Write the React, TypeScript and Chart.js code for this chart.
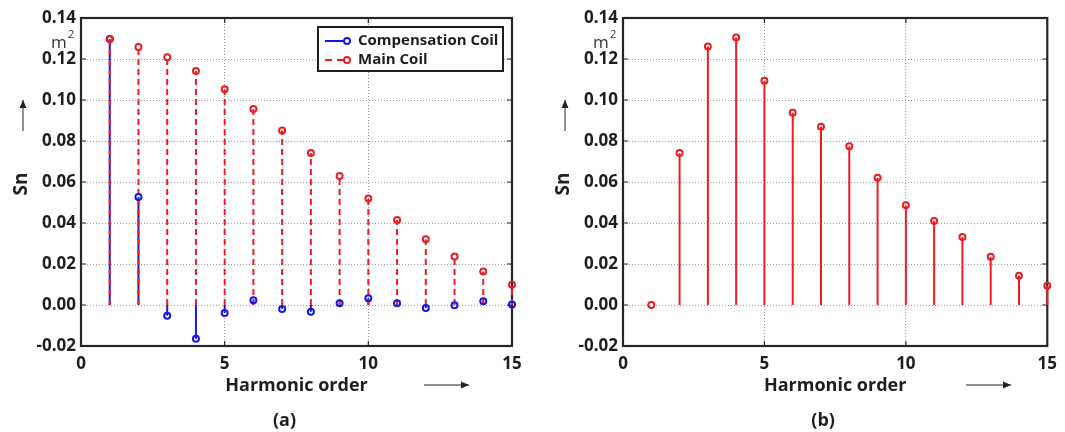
import React, { useEffect, useRef } from "react";
import { Chart, registerables } from "chart.js";

Chart.register(...registerables);

// ---------- data ----------
const harmonicOrder = [1, 2, 3, 4, 5, 6, 7, 8, 9, 10, 11, 12, 13, 14, 15];
const compensationCoil = [0.1297, 0.0527, -0.0052, -0.0165, -0.0039, 0.0023, -0.0019, -0.0033, 0.0008, 0.0033, 0.0008, -0.0015, -0.0001, 0.0018, 0.0003];
const mainCoil = [0.1297, 0.1259, 0.1209, 0.1141, 0.1053, 0.0956, 0.0851, 0.0742, 0.0629, 0.052, 0.0415, 0.0321, 0.0237, 0.0164, 0.0099];
const sensitivityB = [0.0, 0.0741, 0.1261, 0.1305, 0.1094, 0.0938, 0.087, 0.0774, 0.0621, 0.0486, 0.041, 0.0332, 0.0235, 0.0143, 0.0094];
const xTickValues = [0, 5, 10, 15];
const yTickValues = [-0.02, 0.0, 0.02, 0.04, 0.06, 0.08, 0.1, 0.12, 0.14];
const legendLabels = ["Compensation Coil", "Main Coil"];
const xTitle = "Harmonic order";
const yTitle = "Sn";
const unitLabel = "m";
const panelLabels = ["(a)", "(b)"];

const RED = "#ec1c24";
const BLUE = "#1616e0";
const INK = "#1e1e1e";
const FONT = "'Open Sans', 'DejaVu Sans', sans-serif";

const toPoints = (ys: number[]) => harmonicOrder.map((x, i) => ({ x, y: ys[i] }));

// ---------- plugins ----------
const framePlugin = {
  id: "frame",
  beforeDatasetsDraw(chart: any) {
    const { ctx, chartArea: a, scales } = chart;
    ctx.save();
    ctx.strokeStyle = "#262626";
    ctx.lineWidth = 1.2;
    const tl = 5;
    ctx.beginPath();
    xTickValues.forEach((v) => {
      const x = scales.x.getPixelForValue(v);
      ctx.moveTo(x, a.bottom);
      ctx.lineTo(x, a.bottom - tl);
      ctx.moveTo(x, a.top);
      ctx.lineTo(x, a.top + tl);
    });
    yTickValues.forEach((v) => {
      const y = scales.y.getPixelForValue(v);
      ctx.moveTo(a.left, y);
      ctx.lineTo(a.left + tl, y);
      ctx.moveTo(a.right, y);
      ctx.lineTo(a.right - tl, y);
    });
    ctx.stroke();
    ctx.lineWidth = 2.2;
    ctx.strokeRect(a.left, a.top, a.right - a.left, a.bottom - a.top);
    ctx.restore();
  },
};

const stemPlugin = {
  id: "stems",
  beforeDatasetsDraw(chart: any) {
    const { ctx, scales } = chart;
    const y0 = scales.y.getPixelForValue(0);
    const idx = chart.data.datasets.map((_: any, i: number) => i);
    idx.sort((a: number, b: number) => (chart.data.datasets[b].order || 0) - (chart.data.datasets[a].order || 0));
    ctx.save();
    idx.forEach((i: number) => {
      const ds = chart.data.datasets[i];
      const meta = chart.getDatasetMeta(i);
      ctx.strokeStyle = ds.borderColor;
      ctx.lineWidth = 2;
      ctx.setLineDash(ds.stemDash || []);
      meta.data.forEach((el: any) => {
        ctx.beginPath();
        ctx.moveTo(el.x, y0);
        ctx.lineTo(el.x, el.y);
        ctx.stroke();
      });
    });
    ctx.restore();
  },
};

function arrow(ctx: CanvasRenderingContext2D, x1: number, y1: number, x2: number, y2: number) {
  ctx.save();
  ctx.strokeStyle = "#222";
  ctx.fillStyle = "#222";
  ctx.lineWidth = 1;
  ctx.beginPath();
  ctx.moveTo(x1, y1);
  ctx.lineTo(x2, y2);
  ctx.stroke();
  const ang = Math.atan2(y2 - y1, x2 - x1);
  const L = 8, W = 3.5;
  ctx.beginPath();
  ctx.moveTo(x2, y2);
  ctx.lineTo(x2 - L * Math.cos(ang) + W * Math.sin(ang), y2 - L * Math.sin(ang) - W * Math.cos(ang));
  ctx.lineTo(x2 - L * Math.cos(ang) - W * Math.sin(ang), y2 - L * Math.sin(ang) + W * Math.cos(ang));
  ctx.closePath();
  ctx.fill();
  ctx.restore();
}

function makeLabelsPlugin(panel: string, withLegend: boolean) {
  return {
    id: "labels",
    afterDraw(chart: any) {
      const { ctx, chartArea: a } = chart;
      ctx.save();
      ctx.fillStyle = INK;
      // y title
      ctx.save();
      ctx.translate(a.left - 59, 184);
      ctx.rotate(-Math.PI / 2);
      ctx.font = `bold 19px ${FONT}`;
      ctx.textAlign = "center";
      ctx.textBaseline = "middle";
      ctx.fillText(yTitle, 0, 0);
      ctx.restore();
      arrow(ctx, a.left - 58, 131, a.left - 58, 100);
      // unit m^2
      ctx.font = `17px ${FONT}`;
      ctx.textAlign = "left";
      ctx.textBaseline = "alphabetic";
      ctx.fillStyle = "#333";
      ctx.fillText(unitLabel, a.left - 30, 48);
      ctx.font = `11px ${FONT}`;
      ctx.fillText("2", a.left - 13, 38);
      // x title
      ctx.fillStyle = INK;
      ctx.font = `bold 18px ${FONT}`;
      ctx.textAlign = "center";
      ctx.textBaseline = "middle";
      ctx.fillText(xTitle, (a.left + a.right) / 2, 386);
      arrow(ctx, a.left + 343, 385, a.left + 388, 385);
      // panel label
      ctx.fillText(panel, (a.left + a.right) / 2 - 12, 421);
      if (withLegend) {
        const bx = 318, by = 27, bw = 185, bh = 44;
        ctx.fillStyle = "#fff";
        ctx.fillRect(bx, by, bw, bh);
        ctx.strokeStyle = "#1e1e1e";
        ctx.lineWidth = 2;
        ctx.strokeRect(bx, by, bw, bh);
        const rows = [
          { y: 41, color: BLUE, dash: [] as number[] },
          { y: 60, color: RED, dash: [7, 5] },
        ];
        rows.forEach((r, i) => {
          ctx.strokeStyle = r.color;
          ctx.lineWidth = 2;
          ctx.setLineDash(r.dash);
          ctx.beginPath();
          ctx.moveTo(325, r.y);
          ctx.lineTo(347, r.y);
          ctx.stroke();
          ctx.setLineDash([]);
          ctx.fillStyle = "#fff";
          ctx.beginPath();
          ctx.arc(347, r.y, 3, 0, Math.PI * 2);
          ctx.fill();
          ctx.stroke();
          ctx.fillStyle = INK;
          ctx.font = `bold 15px ${FONT}`;
          ctx.textAlign = "left";
          ctx.textBaseline = "middle";
          ctx.fillText(legendLabels[i], 358, r.y);
        });
      }
      ctx.restore();
    },
  };
}

function makeConfig(datasets: any[], yAxisWidth: number, rightPad: number, panel: string, withLegend: boolean): any {
  const tickFont = { family: FONT, size: 17, weight: "bold" as const };
  return {
    type: "scatter",
    data: { datasets },
    options: {
      animation: false,
      responsive: false,
      maintainAspectRatio: false,
      layout: { padding: { left: 0, top: 18, right: rightPad, bottom: 0 } },
      plugins: { legend: { display: false }, tooltip: { enabled: false } },
      scales: {
        x: {
          type: "linear",
          min: 0,
          max: 15,
          afterBuildTicks: (s: any) => {
            s.ticks = xTickValues.map((v) => ({ value: v }));
          },
          afterFit: (s: any) => {
            s.height = 86;
          },
          grid: { color: "#9a9a9a", lineWidth: 1, drawTicks: false },
          border: { display: false, dash: [1, 2] },
          ticks: { padding: 8, font: tickFont, color: INK, maxRotation: 0, autoSkip: false },
        },
        y: {
          type: "linear",
          min: -0.02,
          max: 0.14,
          afterBuildTicks: (s: any) => {
            s.ticks = yTickValues.map((v) => ({ value: v }));
          },
          afterFit: (s: any) => {
            s.width = yAxisWidth;
          },
          grid: { color: "#9a9a9a", lineWidth: 1, drawTicks: false },
          border: { display: false, dash: [1, 2] },
          ticks: {
            padding: 5,
            font: tickFont,
            color: INK,
            autoSkip: false,
            callback: (v: any) => Number(v).toFixed(2),
          },
        },
      },
    },
    plugins: [framePlugin, stemPlugin, makeLabelsPlugin(panel, withLegend)],
  };
}

const pointStyle = (color: string) => ({
  borderColor: color,
  backgroundColor: "rgba(0,0,0,0)",
  pointRadius: 3,
  pointBorderWidth: 2,
  pointBackgroundColor: "rgba(0,0,0,0)",
  showLine: false,
  clip: false,
});

export default function App() {
  const leftRef = useRef<HTMLCanvasElement>(null);
  const rightRef = useRef<HTMLCanvasElement>(null);

  useEffect(() => {
    const left = new Chart(
      leftRef.current as HTMLCanvasElement,
      makeConfig(
        [
          { label: legendLabels[0], data: toPoints(compensationCoil), order: 2, stemDash: [], ...pointStyle(BLUE) },
          { label: legendLabels[1], data: toPoints(mainCoil), order: 1, stemDash: [6, 4], ...pointStyle(RED) },
        ],
        81,
        28,
        panelLabels[0],
        true
      )
    );
    const right = new Chart(
      rightRef.current as HTMLCanvasElement,
      makeConfig(
        [{ label: "Sn", data: toPoints(sensitivityB), order: 1, stemDash: [], ...pointStyle(RED) }],
        83,
        11,
        panelLabels[1],
        false
      )
    );
    return () => {
      left.destroy();
      right.destroy();
    };
  }, []);

  return (
    <div style={{ position: "fixed", left: 0, top: 0, width: 1065, height: 432, background: "#fff" }}>
      <canvas ref={leftRef} width={540} height={432} style={{ position: "absolute", left: 0, top: 0, width: 540, height: 432 }} />
      <canvas ref={rightRef} width={525} height={432} style={{ position: "absolute", left: 540, top: 0, width: 525, height: 432 }} />
    </div>
  );
}
